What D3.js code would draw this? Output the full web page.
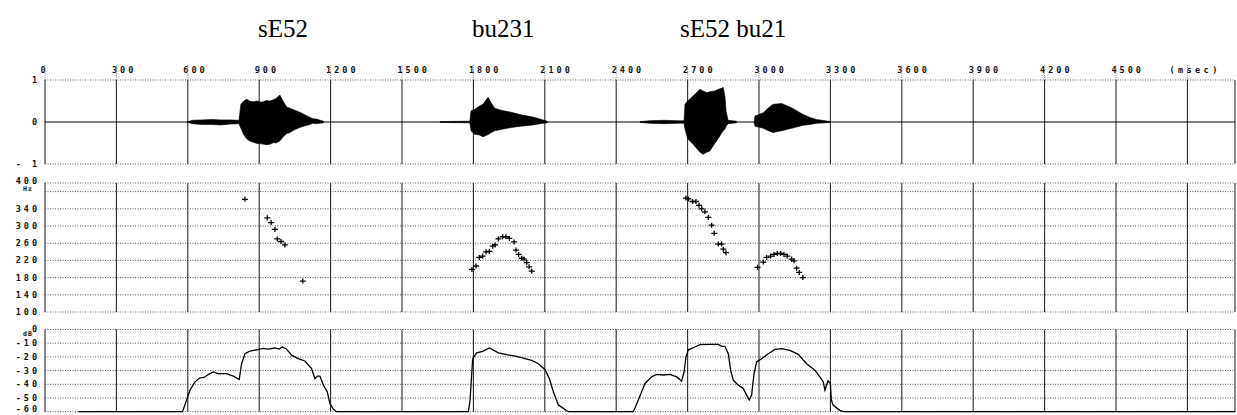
<!DOCTYPE html>
<html lang="en">
<head>
<meta charset="UTF-8">
<title>sE52 bu231 / sE52 bu21</title>
<style>
    body { margin: 0; background: #fff; }
    .tick-label { font-family: "DejaVu Sans Mono", monospace; font-weight: bold; font-size: 8.5px; letter-spacing: 3px; fill: #111; }
    .unit-label { font-family: "DejaVu Sans Mono", monospace; font-weight: bold; font-size: 6.5px; letter-spacing: 1px; fill: #111; }
    .title { font-family: "Liberation Serif", serif; font-size: 25px; fill: #000; }
</style>
</head>
<body>
<div id="chart"></div>
<script src="https://d3js.org/d3.v7.min.js"></script>
<script>
// titles: [text, start time in msec]
const titles = [["sE52", 895], ["bu231", 1794], ["sE52 bu21", 2668]];

const timeTicks = [0, 300, 600, 900, 1200, 1500, 1800, 2100, 2400, 2700, 3000, 3300, 3600, 3900, 4200, 4500];
const timeLines = [300, 600, 900, 1200, 1500, 1800, 2100, 2400, 2700, 3000, 3300, 3600, 3900, 4200, 4500, 4800];
const waveTicks = [1, 0, -1];
const pitchTicks = [400, 340, 300, 260, 220, 180, 140, 100];
const pitchGrid = [140, 180, 220, 260, 300, 340, 380];
const levelTicks = [0, -10, -20, -30, -40, -50, -60];
const levelGrid = [-10, -20, -30, -40, -50];

// waveform envelopes: [msec, upper, lower]
const wave1 = [[595,0,0],[620,0.04,-0.04],[660,0.05,-0.06],[700,0.06,-0.06],[740,0.05,-0.07],[780,0.05,-0.05],[815,0.04,-0.04],
    [823,0.42,-0.15],[835,0.50,-0.30],[847,0.54,-0.40],[860,0.50,-0.45],[875,0.48,-0.48],[890,0.50,-0.51],[910,0.47,-0.52],
    [930,0.51,-0.54],[945,0.50,-0.53],[960,0.53,-0.49],[970,0.56,-0.50],[987,0.64,-0.45],[1000,0.50,-0.36],
    [1015,0.36,-0.28],[1029,0.33,-0.25],[1050,0.28,-0.18],[1071,0.23,-0.13],[1092,0.17,-0.09],[1113,0.11,-0.06],
    [1125,0.08,-0.03],[1140,0.07,-0.04],[1170,0.02,-0.02]];
const wave2 = [[1660,0.01,-0.01],[1785,0.02,-0.02],[1790,0.26,-0.21],[1805,0.30,-0.29],[1825,0.38,-0.31],[1840,0.42,-0.35],
    [1850,0.50,-0.33],[1862,0.59,-0.30],[1875,0.45,-0.25],[1890,0.33,-0.21],[1915,0.28,-0.18],[1960,0.23,-0.13],
    [2000,0.17,-0.10],[2050,0.12,-0.07],[2080,0.07,-0.04],[2110,0.02,-0.02]];
const wave3 = [[2500,0.01,-0.01],[2540,0.03,-0.03],[2600,0.04,-0.04],[2660,0.03,-0.03],[2685,0.03,-0.03],
    [2689,0.42,-0.17],[2700,0.50,-0.40],[2723,0.62,-0.53],[2752,0.78,-0.72],[2765,0.74,-0.77],[2780,0.70,-0.72],
    [2794,0.72,-0.69],[2815,0.74,-0.50],[2822,0.76,-0.45],[2850,0.82,-0.20],[2857,0.60,-0.17],[2862,0.25,-0.10],
    [2870,0.04,-0.04],[2905,0.02,-0.02]];
const wave4 = [[2980,0.02,-0.02],[2983,0.14,-0.10],[3018,0.22,-0.15],[3040,0.34,-0.21],[3059,0.42,-0.25],[3095,0.44,-0.21],
    [3137,0.34,-0.15],[3185,0.18,-0.08],[3214,0.11,-0.06],[3242,0.06,-0.03],[3277,0.03,-0.02],[3300,0.01,-0.01]];

// F0 points: [msec, Hz]
const pitch = [[840,362],[934,319],[950,308],[966,292],[976,270],[992,264],[1008,256],[1083,172],
    [1794,199],[1811,207],[1825,227],[1839,230],[1853,240],[1867,241],[1881,253],[1891,256],[1905,270],[1923,275],
    [1937,275],[1951,271],[1971,263],[1979,244],[1990,234],[2003,225],[2013,223],[2024,215],[2034,205],[2045,195],
    [2693,365],[2704,363],[2721,357],[2735,357],[2748,348],[2759,340],[2773,333],[2787,320],[2801,302],[2812,283],
    [2829,258],[2843,258],[2850,246],[2861,238],
    [2994,204],[3018,216],[3032,227],[3049,230],[3063,234],[3077,236],[3091,236],[3105,234],[3119,230],[3137,223],
    [3147,219],[3158,202],[3169,192],[3184,180]];

// intensity: [msec, dB]
const level = [[140,-60],[578,-60],[595,-51.5],[609,-44.3],[630,-38.2],[651,-35.3],[668,-35],[686,-32.9],[707,-31],
    [728,-32.2],[763,-32.2],[791,-34],[816,-36.5],[826,-25],[840,-17.7],[861,-15.7],[889,-14.8],[917,-13.8],[938,-14.3],
    [966,-13.5],[984,-14.3],[998,-12.8],[1013,-14],[1037,-18.9],[1064,-21.3],[1092,-23],[1120,-28.6],[1134,-35.8],
    [1145,-34],[1155,-34],[1170,-40.6],[1186,-45.5],[1197,-54],[1212,-58.3],[1225,-60],
    [1779,-60],[1786,-51.5],[1797,-21.3],[1814,-17],[1839,-16],[1867,-13.5],[1905,-17],[1940,-18.4],[1982,-19.6],
    [2017,-21.3],[2045,-22.5],[2073,-25],[2101,-29.3],[2119,-35.8],[2136,-45.5],[2157,-55.2],[2178,-57.6],[2192,-59.3],
    [2200,-60],[2472,-60],[2493,-51.5],[2521,-39.4],[2549,-34.6],[2570,-32.7],[2598,-33.2],[2626,-32.7],[2654,-34.6],
    [2675,-37.7],[2685,-31],[2693,-20.1],[2703,-14.8],[2724,-13.3],[2752,-11.1],[2794,-10.9],[2829,-10.9],[2843,-12.3],
    [2857,-12.3],[2871,-17.7],[2881,-29.8],[2892,-37],[2913,-40.6],[2934,-43.1],[2948,-47.9],[2959,-51.5],[2969,-47.9],
    [2979,-32.2],[2990,-23.7],[3011,-21.3],[3039,-17.7],[3067,-14.5],[3095,-14],[3130,-15.3],[3165,-18.1],[3200,-25],
    [3235,-29.8],[3256,-34.6],[3270,-38.2],[3277,-44.3],[3290,-37.5],[3300,-39.4],[3304,-51.5],[3311,-55.2],[3339,-59],
    [3355,-60],[5000,-60]];

const width = 1237, height = 415;

const svg = d3.select("#chart").append("svg")
    .attr("width", width)
    .attr("height", height);

const x = d3.scaleLinear().domain([0, 5000]).range([45, 1235]);
const yWave = d3.scaleLinear().domain([-1, 1]).range([164, 80]);
const yPitch = d3.scaleLinear().domain([100, 400]).range([312, 183]);
const yLevel = d3.scaleLinear().domain([-60, 0]).range([411.7, 329.5]);

// titles
svg.append("g").selectAll("text")
    .data(titles)
    .join("text")
    .attr("class", "title")
    .attr("x", d => x(d[1]))
    .attr("y", 37)
    .text(d => d[0]);

// top time labels
svg.append("g").selectAll("text")
    .data(timeTicks)
    .join("text")
    .attr("class", "tick-label")
    .attr("x", d => x(d) - 4.5)
    .attr("y", 73)
    .text(d => d);
svg.append("text")
    .attr("class", "tick-label")
    .attr("x", x(4725))
    .attr("y", 73)
    .style("letter-spacing", "3.4px")
    .text("(msec)");

function drawFrame(y, top, bottom, gridValues) {
    const g = svg.append("g");
    const [x0, x1] = x.range();
    // dotted horizontal lines
    g.selectAll("line.h")
        .data(gridValues.concat([y.domain()[0], y.domain()[1]]))
        .join("line")
        .attr("x1", x0).attr("x2", x1)
        .attr("y1", d => y(d)).attr("y2", d => y(d))
        .attr("stroke", "#555")
        .attr("stroke-width", 1)
        .attr("stroke-dasharray", "1,1.5");
    // vertical time lines and side borders
    g.selectAll("line.v")
        .data([0].concat(timeLines, [5000]))
        .join("line")
        .attr("x1", d => x(d)).attr("x2", d => x(d))
        .attr("y1", top).attr("y2", bottom)
        .attr("stroke", "#2a2a2a")
        .attr("stroke-width", 1.1);
}

drawFrame(yWave, 80, 164, []);
drawFrame(yPitch, 183, 312, pitchGrid);
drawFrame(yLevel, 329.5, 411.7, levelGrid);

// small marks through the time labels
svg.append("g").selectAll("line")
    .data(timeTicks.concat([4800]))
    .join("line")
    .attr("x1", d => x(d)).attr("x2", d => x(d))
    .attr("y1", 65).attr("y2", 80)
    .attr("stroke", "#777")
    .attr("stroke-width", 0.8)
    .attr("stroke-dasharray", "1,1");

// waveform
svg.append("line")
    .attr("x1", x(0)).attr("x2", x(5000))
    .attr("y1", yWave(0)).attr("y2", yWave(0))
    .attr("stroke", "#000")
    .attr("stroke-width", 1.2);

const waveArea = d3.area()
    .x(d => x(d[0]))
    .y0(d => yWave(d[2]))
    .y1(d => yWave(d[1]));

svg.append("g").selectAll("path")
    .data([wave1, wave2, wave3, wave4])
    .join("path")
    .attr("d", waveArea)
    .attr("fill", "#000")
    .attr("stroke", "#000")
    .attr("stroke-width", 0.6);

// F0 crosses
svg.append("g").selectAll("path")
    .data(pitch)
    .join("path")
    .attr("transform", d => `translate(${x(d[0])},${yPitch(d[1])})`)
    .attr("d", "M-3,0H3M0,-2.5V2.5")
    .attr("stroke", "#000")
    .attr("stroke-width", 1.3);

// intensity curve
svg.append("path")
    .datum(level)
    .attr("d", d3.line().x(d => x(d[0])).y(d => yLevel(d[1])))
    .attr("fill", "none")
    .attr("stroke", "#000")
    .attr("stroke-width", 1.3);

// left labels (kept inside the page at the very bottom)
function leftLabels(values, y, fmt) {
    svg.append("g").selectAll("text")
        .data(values)
        .join("text")
        .attr("class", "tick-label")
        .attr("text-anchor", "end")
        .attr("x", 40)
        .attr("y", d => Math.min(y(d), 409.5))
        .attr("dy", "0.35em")
        .text(fmt);
}
leftLabels(waveTicks, yWave, d => d < 0 ? "- " + Math.abs(d) : d);
leftLabels(pitchTicks.slice(1), yPitch, d => d);
leftLabels(levelTicks, yLevel, d => d < 0 ? "-" + Math.abs(d) : d);

// 400 sits slightly above the frame top, with Hz tucked under it
svg.append("text").attr("class", "tick-label")
    .attr("text-anchor", "end")
    .attr("x", 40).attr("y", yPitch(400) + 1)
    .text(pitchTicks[0]);
svg.append("text").attr("class", "unit-label")
    .attr("x", 23).attr("y", yPitch(400) + 8).text("Hz");
svg.append("text").attr("class", "unit-label")
    .attr("x", 23).attr("y", yLevel(0) + 6).text("dB");
</script>
</body>
</html>
